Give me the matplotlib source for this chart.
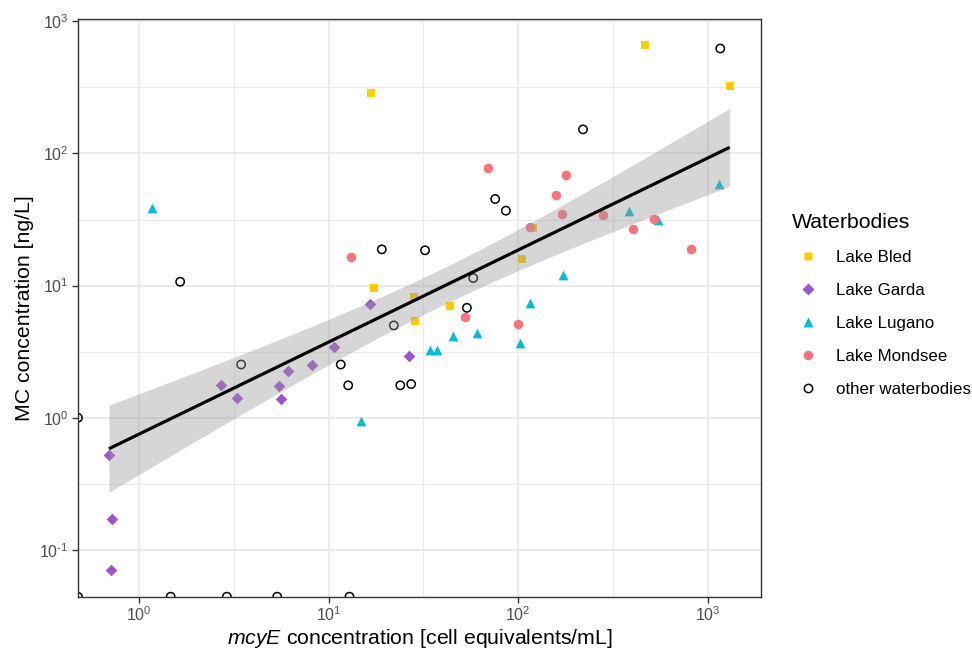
import matplotlib
matplotlib.use("Agg")
import matplotlib.pyplot as plt
import numpy as np
from matplotlib.lines import Line2D
from matplotlib.ticker import FixedLocator, FuncFormatter, NullFormatter

plt.rcParams["font.family"] = ["Liberation Sans", "DejaVu Sans"]
plt.rcParams["mathtext.fontset"] = "custom"
plt.rcParams["mathtext.rm"] = "Liberation Sans"
plt.rcParams["mathtext.it"] = "Liberation Sans:italic"
plt.rcParams["axes.unicode_minus"] = False

# mcyE [cell equivalents/mL] vs MC [ng/L]; 0 = below detection (drawn on the panel edge)
bled_x = [16.7, 467, 1306, 17.4, 28.4, 43.7, 28.5, 104.7, 120.5]
bled_y = [288, 658, 325, 9.61, 8.26, 7.07, 5.36, 15.8, 27.4]

garda_x = [0.695, 0.718, 0.715, 2.72, 3.30, 5.47, 5.63, 6.15, 8.20, 10.65, 16.6, 26.7]
garda_y = [0.521, 0.172, 0.070, 1.76, 1.42, 1.73, 1.38, 2.26, 2.53, 3.43, 7.23, 2.95]

lugano_x = [1.17, 14.85, 34.1, 37.4, 45.5, 60.7, 102.6, 115.4, 172, 385, 549, 1151]
lugano_y = [38.5, 0.939, 3.28, 3.28, 4.15, 4.40, 3.67, 7.41, 12.0, 36.4, 31.4, 58.4]

mondsee_x = [13.1, 52.6, 69.0, 99.8, 115.4, 158, 171, 180, 282, 403, 521, 817]
mondsee_y = [16.6, 5.81, 77.9, 5.11, 27.7, 48.3, 34.7, 68.6, 34.5, 27.0, 31.8, 19.0]

other_x = [0, 0, 1.47, 2.91, 5.36, 12.9, 1.65, 3.46, 11.6, 12.7, 19.1, 22.1,
           23.9, 27.3, 32.3, 53.7, 58.0, 75.7, 86.2, 220, 1165]
other_y = [1.0, 0, 0, 0, 0, 0, 10.7, 2.53, 2.53, 1.76, 18.8, 5.0,
           1.76, 1.80, 18.5, 6.79, 11.4, 45.2, 36.9, 152, 622]

groups = [
    ("Lake Bled", bled_x, bled_y, "s", "#FFCC00"),
    ("Lake Garda", garda_x, garda_y, "D", "#9A55C8"),
    ("Lake Lugano", lugano_x, lugano_y, "^", "#00BCD4"),
    ("Lake Mondsee", mondsee_x, mondsee_y, "o", "#F9737F"),
    ("other waterbodies", other_x, other_y, "o", "none"),
]
sizes = {"s": 6.0, "D": 5.9, "^": 7.0, "o": 6.9}
open_ms = 6.0

all_x = np.concatenate([np.asarray(g[1], float) for g in groups])
all_y = np.concatenate([np.asarray(g[2], float) for g in groups])
ok = (all_x > 0) & (all_y > 0)
lx, ly = np.log10(all_x[ok]), np.log10(all_y[ok])

# ggplot-like 5% expansion on log scale
def expand(v):
    r = v.max() - v.min()
    return 10 ** (v.min() - 0.05 * r), 10 ** (v.max() + 0.05 * r)

xlim, ylim = expand(lx), expand(ly)

# linear fit on log-log with 95% CI
slope, icpt = np.polyfit(lx, ly, 1)
n = lx.size
resid = ly - (slope * lx + icpt)
s = np.sqrt(np.sum(resid ** 2) / (n - 2))
sxx = np.sum((lx - lx.mean()) ** 2)
t = 2.0  # t(0.975, ~58 df)
gx = np.linspace(lx.min(), lx.max(), 80)
gy = slope * gx + icpt
se = s * np.sqrt(1 / n + (gx - lx.mean()) ** 2 / sxx)

fig = plt.figure(figsize=(9.72, 6.53), dpi=100)
ax = fig.add_axes([0.0802, 0.0862, 0.7024, 0.8847])

for name, xs, ys, mk, col in groups:
    xs = np.where(np.asarray(xs, float) > 0, xs, xlim[0])
    ys = np.where(np.asarray(ys, float) > 0, ys, ylim[0])
    if col == "none":
        ax.scatter(xs, ys, s=open_ms ** 2, marker=mk, facecolors="none",
                   edgecolors="black", linewidths=1.1, zorder=2)
    else:
        ax.scatter(xs, ys, s=sizes[mk] ** 2, marker=mk, color=col, linewidths=0, zorder=2)

ax.fill_between(10 ** gx, 10 ** (gy - t * se), 10 ** (gy + t * se),
                color="#999999", alpha=0.4, lw=0, zorder=3)
ax.plot(10 ** gx, 10 ** gy, color="black", lw=2.3, zorder=4, solid_capstyle="butt")

ax.set_xscale("log")
ax.set_yscale("log")
ax.set_xlim(xlim)
ax.set_ylim(ylim)


def pow10(v, pos):
    e = int(round(np.log10(v)))
    ex = r"\text{-}%d" % -e if e < 0 else "%d" % e
    return r"$\mathdefault{10^{%s}}$" % ex


half = 10 ** (np.arange(-3, 5) + 0.5)
for axis in (ax.xaxis, ax.yaxis):
    axis.set_major_locator(FixedLocator(10.0 ** np.arange(-3, 5)))
    axis.set_major_formatter(FuncFormatter(pow10))
    axis.set_minor_locator(FixedLocator(half))
    axis.set_minor_formatter(NullFormatter())

ax.set_axisbelow(True)
ax.grid(True, which="major", color="#EBEBEB", lw=1.5)
ax.grid(True, which="minor", color="#EBEBEB", lw=0.8)
ax.tick_params(which="major", length=4, width=1, color="#333333",
               labelcolor="#4D4D4D", labelsize=11.5, pad=2.5)
ax.tick_params(which="minor", length=0)
for sp in ax.spines.values():
    sp.set_color("#333333")
    sp.set_linewidth(1.0)

ax.set_xlabel(r"$\it{mcyE}$ concentration [cell equivalents/mL]", fontsize=15.3, labelpad=2)
ax.set_ylabel("MC concentration [ng/L]", fontsize=15.3, labelpad=4)

handles = []
for name, xs, ys, mk, col in groups:
    if col == "none":
        h = Line2D([], [], ls="none", marker=mk, ms=open_ms, mfc="none",
                   mec="black", mew=1.1)
    else:
        h = Line2D([], [], ls="none", marker=mk, ms=sizes[mk], mfc=col, mec="none")
    handles.append(h)

leg = fig.legend(handles, [g[0] for g in groups], title="Waterbodies",
                 loc="upper left", bbox_to_anchor=(792 / 972, 1 - 213 / 653),
                 frameon=False, fontsize=12.2, title_fontsize=15.3, borderpad=0,
                 borderaxespad=0, handlelength=1.93, handletextpad=0.69,
                 labelspacing=1.06, alignment="left")

fig.savefig("out.png", dpi=100)
